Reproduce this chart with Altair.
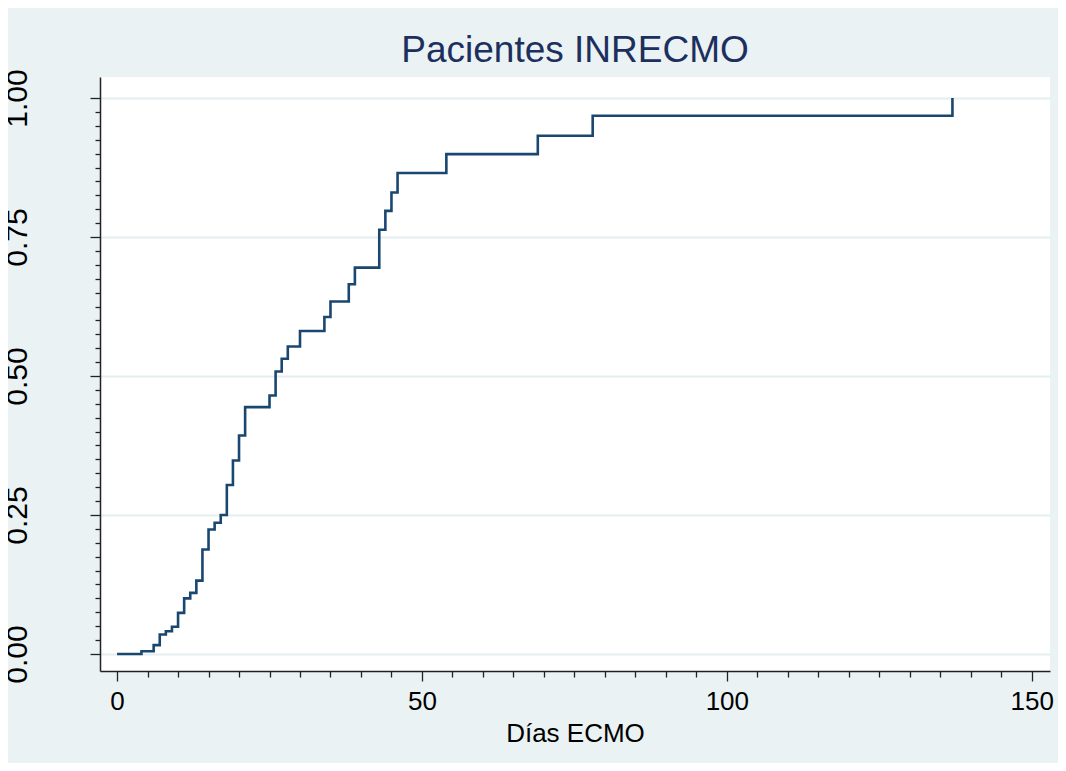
import altair as alt
import pandas as pd

# Kaplan-Meier style cumulative failure curve
days = [0, 4, 6, 7, 8, 9, 10, 11, 12, 13, 14, 15, 16, 17, 18, 19, 20, 21,
        25, 26, 27, 28, 30, 34, 35, 38, 39, 43, 44, 45, 46, 54, 69, 78, 137]
failure = [0.000, 0.005, 0.016, 0.035, 0.041, 0.049, 0.074, 0.100, 0.110,
           0.132, 0.188, 0.224, 0.236, 0.250, 0.304, 0.348, 0.393, 0.444,
           0.465, 0.508, 0.531, 0.553, 0.581, 0.606, 0.634, 0.665, 0.695,
           0.763, 0.797, 0.830, 0.865, 0.899, 0.932, 0.968, 1.000]

x_major = [0, 50, 100, 150]
x_minor = [v for v in range(5, 150, 5) if v % 50 != 0]
y_major = [0.0, 0.25, 0.5, 0.75, 1.0]
y_minor = [round(i * 0.025, 3) for i in range(1, 40) if i % 10 != 0]

df = pd.DataFrame({"dias": days, "fallo": failure})

FONT = "Liberation Sans"
xscale = alt.Scale(domain=[-2.8, 153], nice=False, zero=False)
yscale = alt.Scale(domain=[-0.0306, 1.0378], nice=False, zero=False)

line = alt.Chart(df).mark_line(
    interpolate="step-after", color="#1A476F", strokeWidth=2.6
).encode(
    x=alt.X("dias:Q", scale=xscale,
            axis=alt.Axis(orient="bottom", values=x_major, title="Días ECMO",
                          grid=False, tickSize=10, tickWidth=1.3,
                          tickColor="#222222", domainColor="#222222",
                          domainWidth=1.5, labelFontSize=26, labelFont=FONT,
                          labelColor="#000000", labelPadding=7,
                          labelBaseline="top", labelFlush=False,
                          labelOverlap=False, titleFont=FONT,
                          titleFontSize=26, titleFontWeight="normal",
                          titleColor="#000000", titleY=70,
                          titleBaseline="alphabetic")),
    y=alt.Y("fallo:Q", scale=yscale,
            axis=alt.Axis(orient="left", values=y_major, format=".2f",
                          title=None, grid=True, gridColor="#E4EEF0",
                          gridWidth=2, tickSize=10, tickWidth=1.3,
                          tickColor="#222222", domainColor="#222222",
                          domainWidth=1.5, labelFontSize=30, labelFont=FONT,
                          labelColor="#000000", labelAngle=270,
                          labelAlign="center", labelBaseline="alphabetic",
                          labelPadding=64, labelFlush=False,
                          labelOverlap=False)),
)

minor = alt.Chart(df).mark_point(opacity=0).encode(
    x=alt.X("dias:Q", scale=xscale,
            axis=alt.Axis(orient="bottom", values=x_minor, title=None,
                          grid=False, labels=False, domain=False,
                          tickSize=6, tickWidth=1.3, tickColor="#222222")),
    y=alt.Y("fallo:Q", scale=yscale,
            axis=alt.Axis(orient="left", values=y_minor, title=None,
                          grid=False, labels=False, domain=False,
                          tickSize=5, tickWidth=1.3, tickColor="#222222")),
)

chart = alt.layer(line, minor).resolve_axis(
    x="independent", y="independent"
).properties(
    width=950,
    height=594,
    padding={"left": 92, "top": 69, "right": 8, "bottom": 92},
    autosize=alt.AutoSizeParams(type="none"),
    title=alt.TitleParams(
        "Pacientes INRECMO", font=FONT, fontSize=37, fontWeight="normal",
        color="#1C2F5E", anchor="middle", frame="group", offset=9, dy=39,
        baseline="alphabetic"),
).configure(
    background="#EAF2F3"
).configure_view(
    fill="#FFFFFF", stroke=None
)

chart.save("out.html", embed_options={"renderer": "svg", "actions": False})
